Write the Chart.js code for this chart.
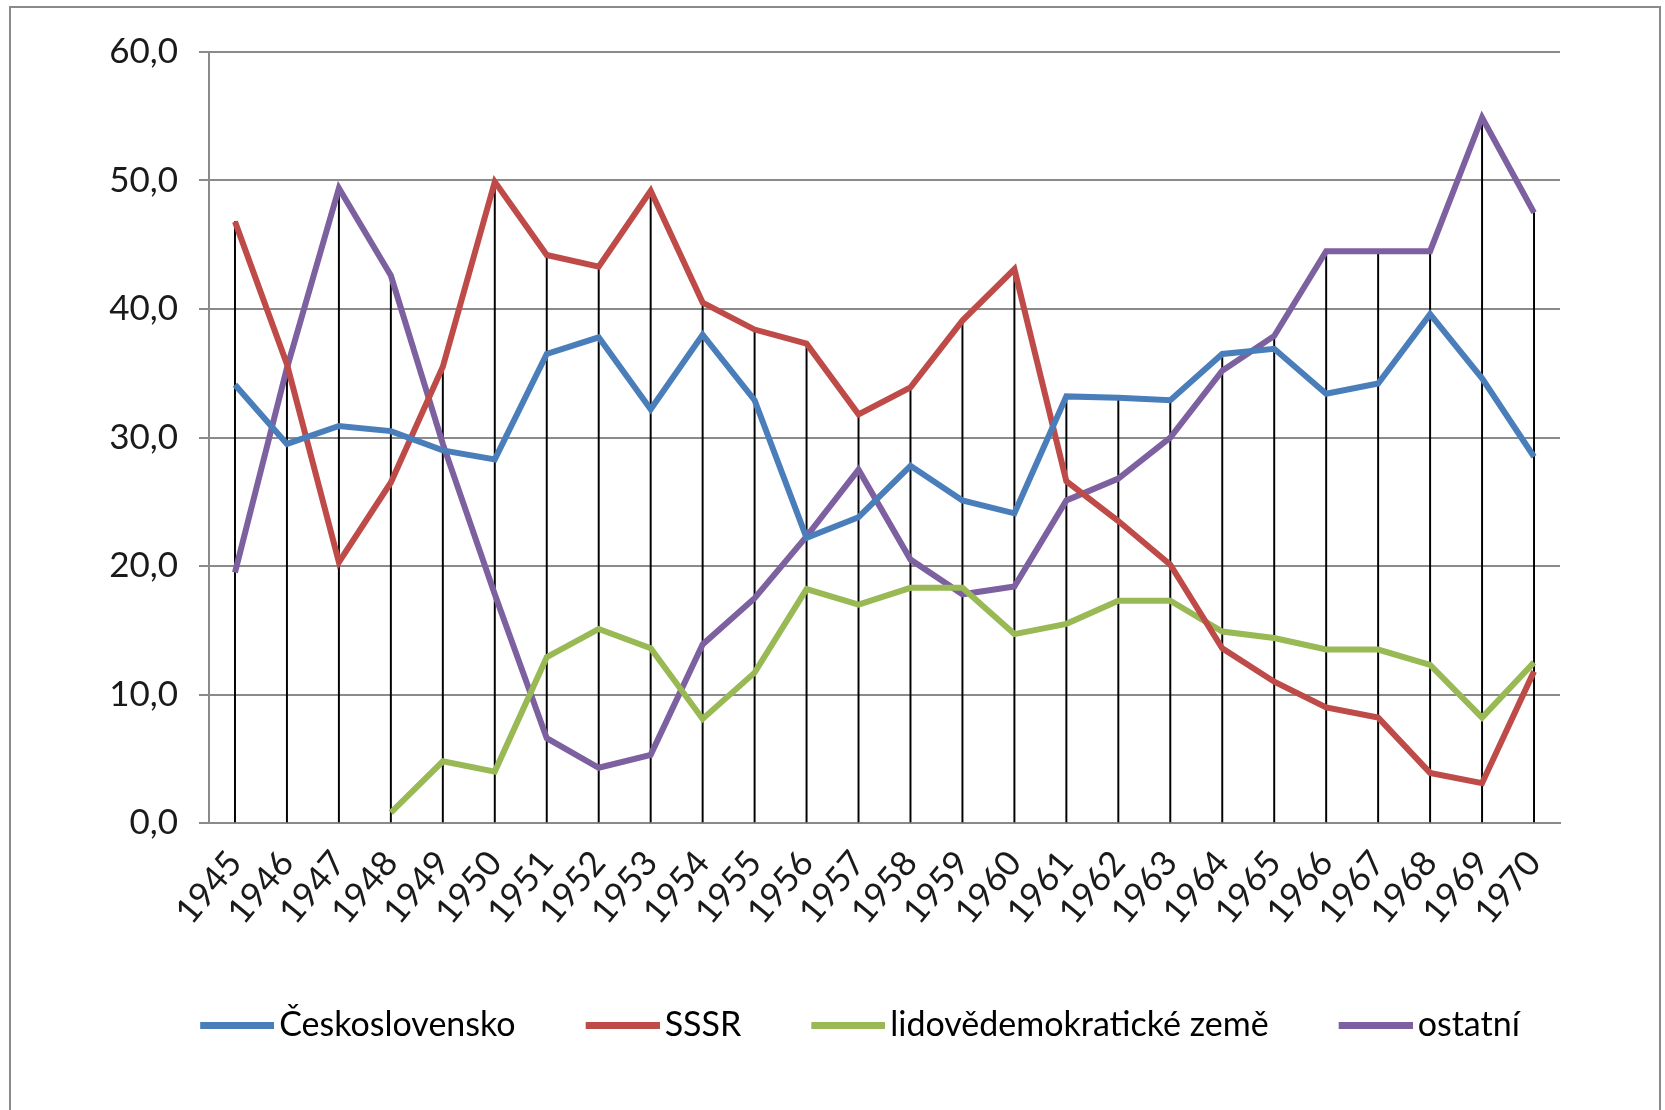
<!DOCTYPE html>
<html>
<head>
<meta charset="utf-8">
<script src="https://cdn.jsdelivr.net/npm/chart.js@4.4.1/dist/chart.umd.min.js"></script>
<style>
  body { margin: 0; background: #fff; }
  #frame { position: absolute; left: 9px; top: 6px; width: 1648px; height: 1130px; border: 2px solid #8a8a8a; }
  #wrap { position: absolute; left: 0; top: 0; width: 1665px; height: 1110px; }
</style>
</head>
<body>
<div id="frame"></div>
<div id="wrap"><canvas id="myChart"></canvas></div>
<script>
var years = ['1945', '1946', '1947', '1948', '1949', '1950', '1951', '1952', '1953', '1954', '1955', '1956', '1957',
    '1958', '1959', '1960', '1961', '1962', '1963', '1964', '1965', '1966', '1967', '1968', '1969', '1970'];
var ceskoslovensko = [34.1, 29.5, 30.9, 30.5, 29.0, 28.3, 36.5, 37.8, 32.2, 38.0, 32.9, 22.2, 23.8,
    27.8, 25.1, 24.1, 33.2, 33.1, 32.9, 36.5, 36.9, 33.4, 34.2, 39.6, 34.6, 28.5];
var sssr = [46.8, 35.7, 20.3, 26.5, 35.5, 49.9, 44.2, 43.3, 49.2, 40.5, 38.4, 37.3, 31.8,
    33.9, 39.1, 43.1, 26.6, 23.5, 20.1, 13.6, 11.0, 9.0, 8.2, 3.9, 3.1, 11.8];
var lidove = [null, null, null, 0.8, 4.8, 4.0, 12.9, 15.1, 13.6, 8.1, 11.7, 18.2, 17.0,
    18.3, 18.3, 14.7, 15.5, 17.3, 17.3, 14.9, 14.4, 13.5, 13.5, 12.3, 8.2, 12.5];
var ostatni = [19.5, 35.4, 49.4, 42.6, 29.5, 17.8, 6.6, 4.3, 5.3, 13.9, 17.5, 22.3, 27.5,
    20.5, 17.8, 18.4, 25.1, 26.8, 30.0, 35.2, 37.9, 44.5, 44.5, 44.5, 54.9, 47.5];

// high line at each year: from 0 up to the highest series value
var highs = years.map(function (y, i) {
    return Math.max(ceskoslovensko[i], sssr[i], lidove[i] || 0, ostatni[i]);
});

Chart.defaults.font.family = 'Lato';
Chart.defaults.font.size = 35;
Chart.defaults.color = '#1a1a1a';

// legend marker: a short thick line sitting right next to the text
function marker(color) {
    var c = document.createElement('canvas');
    c.width = 146;
    c.height = 7;
    var g = c.getContext('2d');
    g.fillStyle = color;
    g.fillRect(72, 0, 74, 7);
    return c;
}

function serie(label, values, color) {
    return {
        type: 'line',
        label: label,
        data: values,
        borderColor: color,
        backgroundColor: color,
        borderWidth: 6,
        pointRadius: 0,
        lineTension: 0,
        borderJoinStyle: 'miter',
        order: 1,
    };
}

const data = {
    labels: years,
    datasets: [
        serie('Československo', ceskoslovensko, '#4a7ebb'),
        serie('SSSR', sssr, '#be4b48'),
        serie('lidovědemokratické země', lidove, '#98b954'),
        serie('ostatní', ostatni, '#7d60a0'),
        {
            type: 'bar',
            label: 'high',
            data: highs,
            backgroundColor: '#000',
            barThickness: 1.3,
            order: 10,
        }
    ]
};

const config = {
    type: 'line',
    data: data,
    options: {
        responsive: true,
        maintainAspectRatio: false,
        animation: false,
        layout: { padding: { left: 100, right: 105, top: 52, bottom: 58 } },
        plugins: {
            tooltip: { enabled: false },
            legend: {
                position: 'bottom',
                labels: {
                    font: { size: 34 },
                    usePointStyle: true,
                    pointStyleWidth: 122,
                    padding: 10,
                    generateLabels: function (chart) {
                        return chart.data.datasets.filter(function (ds) {
                            return ds.type === 'line';
                        }).map(function (ds, i) {
                            return {
                                text: ds.label,
                                fillStyle: ds.borderColor,
                                strokeStyle: ds.borderColor,
                                lineWidth: 0,
                                pointStyle: marker(ds.borderColor),
                                datasetIndex: i,
                            };
                        });
                    }
                }
            }
        },
        scales: {
            x: {
                offset: true,
                grid: { display: false, drawTicks: false },
                border: { display: true, color: '#8a8a8a', width: 2 },
                ticks: { autoSkip: false, minRotation: 50, maxRotation: 50, padding: 20, color: '#1a1a1a' },
                afterFit: function (s) { s.height = 175; }
            },
            y: {
                min: 0,
                max: 60,
                grid: { color: '#8a8a8a', lineWidth: 2, tickLength: 10 },
                border: { color: '#8a8a8a', width: 2 },
                ticks: {
                    stepSize: 10,
                    padding: 21,
                    color: '#1a1a1a',
                    callback: function (v) { return v.toFixed(1).replace('.', ','); }
                },
                afterFit: function (s) { s.width = 109; }
            }
        }
    }
};

const myChart = new Chart(
    document.getElementById('myChart'),
    config
);
</script>
</body>
</html>
